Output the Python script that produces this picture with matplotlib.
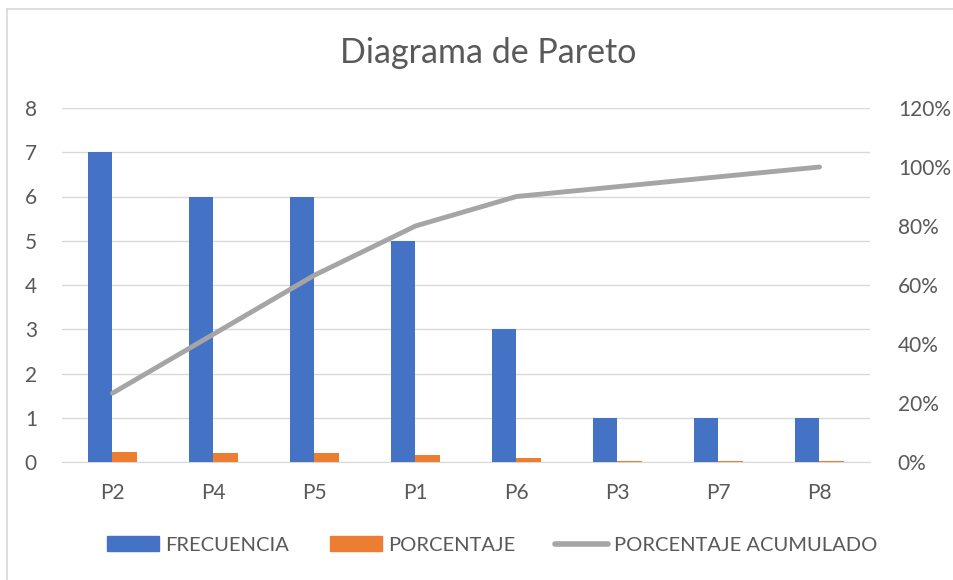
import matplotlib
matplotlib.use("Agg")
import matplotlib.pyplot as plt
import numpy as np
from matplotlib.lines import Line2D
from matplotlib.patches import Patch

categories = ["P2", "P4", "P5", "P1", "P6", "P3", "P7", "P8"]
frecuencia = [7, 6, 6, 5, 3, 1, 1, 1]
porcentaje = [0.2333, 0.2, 0.2, 0.1667, 0.1, 0.0333, 0.0333, 0.0333]
acumulado = [0.2333, 0.4333, 0.6333, 0.80, 0.90, 0.9333, 0.9667, 1.0]
left_ticks = [0, 1, 2, 3, 4, 5, 6, 7, 8]
right_ticks = [0, 0.2, 0.4, 0.6, 0.8, 1.0, 1.2]

plt.rcParams['font.family'] = ['Lato', 'DejaVu Sans']
tc = '#595959'
blue = '#4472C4'
orange = '#ED7D31'
gray = '#A5A5A5'
fs = 15
lfs = 14.5

fig = plt.figure(figsize=(9.54, 5.8), dpi=100)
W, H = 954, 580
# chart border (left and top edges visible)
fig.add_artist(Line2D([7.5 / W, 7.5 / W], [0, 1 - 8.5 / H], transform=fig.transFigure,
                      color='#D9D9D9', linewidth=1.2))
fig.add_artist(Line2D([7.5 / W, 1], [1 - 8.5 / H, 1 - 8.5 / H], transform=fig.transFigure,
                      color='#D9D9D9', linewidth=1.2))

ax = fig.add_axes([62 / W, 1 - 462 / H, 808 / W, 354 / H])
x = np.arange(len(categories))
w = 0.24
ax.bar(x - w/2, frecuencia, width=w, color=blue, zorder=3)
ax.bar(x + w/2, porcentaje, width=w, color=orange, zorder=3)
ax.set_xlim(-0.5, len(categories) - 0.5)
ax.set_ylim(0, 8)
ax.set_yticks(left_ticks)
ax.set_yticklabels([str(t) for t in left_ticks])
ax.set_xticks(x)
ax.set_xticklabels(categories)
ax.grid(axis='y', color='#D9D9D9', linewidth=1, zorder=0)
for s in ['top', 'right', 'left']:
    ax.spines[s].set_visible(False)
ax.spines['bottom'].set_color('#D9D9D9')
ax.tick_params(axis='both', length=0, colors=tc, labelsize=fs)
ax.tick_params(axis='x', pad=15)
ax.tick_params(axis='y', pad=18)

ax2 = ax.twinx()
ax2.plot(x, acumulado, color=gray, linewidth=3.5, solid_capstyle='round', zorder=4)
ax2.set_ylim(0, 1.2)
ax2.set_yticks(right_ticks)
ax2.set_yticklabels([f"{int(round(t*100))}%" for t in right_ticks])
for s in ['top', 'right', 'left', 'bottom']:
    ax2.spines[s].set_visible(False)
ax2.tick_params(axis='y', length=0, colors=tc, labelsize=fs, pad=20)

fig.text(488 / W, 1 - 53 / H, "Diagrama de Pareto", ha='center', va='center', fontsize=24.5, color=tc)

handles = [Patch(color=blue), Patch(color=orange),
           Line2D([0], [0], color=gray, linewidth=4, solid_capstyle='round')]
labels = ["FRECUENCIA", "PORCENTAJE", "PORCENTAJE ACUMULADO"]
fig.legend(handles, labels, loc='center left', bbox_to_anchor=(107 / W, 1 - 545 / H), ncol=3,
           frameon=False, fontsize=lfs, labelcolor=tc, handlelength=2.6, handleheight=0.7,
           columnspacing=2.0, handletextpad=0.3, borderpad=0, borderaxespad=0)

fig.savefig("out.png", dpi=100)
